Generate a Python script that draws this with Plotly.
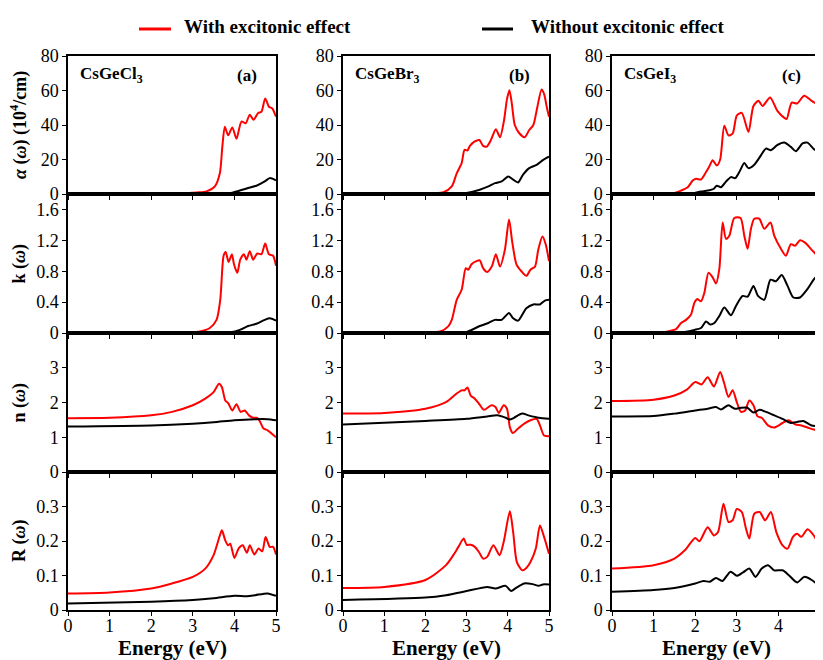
import plotly.graph_objects as go

# ---------------- DATA ----------------
# Panel (a) CsGeCl3
A_ALPHA_RED_X = [0, 1, 2, 2.5, 2.85, 3.1, 3.33, 3.53, 3.65, 3.71, 3.77, 3.85, 3.95, 4.05, 4.17, 4.27, 4.37, 4.46, 4.57, 4.65, 4.74, 4.83, 4.91, 5.0]
A_ALPHA_RED_Y = [0, 0, 0.1, 0.2, 0.5, 0.9, 1.5, 4.4, 12, 27.5, 39, 34, 38.6, 32, 42, 41, 46, 43, 47, 47.7, 55.4, 50.6, 49.6, 44.8]
A_ALPHA_BLK_X = [0, 1, 2, 3, 3.5, 3.89, 4.13, 4.33, 4.53, 4.73, 4.85, 5.0]
A_ALPHA_BLK_Y = [0, 0, 0, 0, 0.1, 0.5, 2, 3.5, 4.8, 7.3, 9.2, 7.9]
A_K_RED_X = [0, 1, 2, 2.8, 3.17, 3.41, 3.57, 3.66, 3.74, 3.79, 3.86, 3.94, 3.99, 4.07, 4.14, 4.23, 4.29, 4.37, 4.45, 4.55, 4.65, 4.74, 4.83, 4.93, 5.0]
A_K_RED_Y = [0, 0, 0.005, 0.01, 0.02, 0.065, 0.17, 0.43, 1.0, 1.05, 0.92, 1.02, 0.89, 0.78, 0.95, 1.02, 0.95, 1.06, 0.95, 1.03, 1.02, 1.16, 1.02, 1.0, 0.87]
A_K_BLK_X = [0, 1, 2, 3, 3.5, 3.9, 4.13, 4.33, 4.53, 4.73, 4.85, 5.0]
A_K_BLK_Y = [0, 0, 0, 0, 0.003, 0.01, 0.04, 0.09, 0.12, 0.17, 0.19, 0.16]
A_N_RED_X = [0, 1, 2, 2.5, 3, 3.3, 3.5, 3.63, 3.7, 3.78, 3.85, 3.95, 4.05, 4.15, 4.25, 4.35, 4.45, 4.55, 4.62, 4.7, 4.8, 4.9, 5.0]
A_N_RED_Y = [1.55, 1.56, 1.63, 1.73, 1.92, 2.11, 2.30, 2.54, 2.44, 2.06, 1.98, 1.77, 1.95, 1.73, 1.77, 1.63, 1.56, 1.56, 1.44, 1.25, 1.2, 1.1, 1.0]
A_N_BLK_X = [0, 2, 3, 3.5, 4, 4.5, 4.8, 5]
A_N_BLK_Y = [1.31, 1.34, 1.39, 1.43, 1.49, 1.52, 1.52, 1.49]
A_R_RED_X = [0, 1, 2, 2.5, 3, 3.3, 3.5, 3.65, 3.7, 3.78, 3.85, 3.9, 4.0, 4.1, 4.2, 4.3, 4.37, 4.48, 4.58, 4.67, 4.75, 4.85, 4.93, 5.0]
A_R_RED_Y = [0.048, 0.051, 0.0625, 0.077, 0.096, 0.12, 0.159, 0.216, 0.231, 0.202, 0.1875, 0.192, 0.151, 0.178, 0.1875, 0.166, 0.1875, 0.161, 0.178, 0.17, 0.2115, 0.183, 0.183, 0.161]
A_R_BLK_X = [0, 2, 3, 3.5, 4, 4.3, 4.5, 4.8, 5]
A_R_BLK_Y = [0.019, 0.024, 0.029, 0.034, 0.041, 0.04, 0.043, 0.048, 0.041]

# Panel (b) CsGeBr3
B_ALPHA_RED_X = [0, 1, 2, 2.2, 2.44, 2.64, 2.76, 2.88, 2.95, 3.02, 3.08, 3.19, 3.31, 3.40, 3.49, 3.59, 3.71, 3.81, 3.91, 3.98, 4.04, 4.10, 4.17, 4.28, 4.41, 4.52, 4.62, 4.71, 4.82, 4.88, 4.95, 5.0]
B_ALPHA_RED_Y = [0, 0, 0.1, 0.3, 1, 4.4, 12, 17.9, 25.6, 25.2, 27.9, 30.4, 31.3, 27.9, 27.5, 31.3, 37.5, 32.9, 42.9, 55, 60.2, 52, 40, 35.2, 32.9, 37.1, 40, 49.6, 60.6, 58, 50, 44.8]
B_ALPHA_BLK_X = [0, 1, 2, 2.8, 3.0, 3.32, 3.53, 3.69, 3.85, 4.01, 4.13, 4.25, 4.37, 4.52, 4.70, 4.86, 5.0]
B_ALPHA_BLK_Y = [0, 0, 0, 0.2, 0.6, 2.5, 4.4, 6.3, 7.3, 10.2, 8.3, 6.7, 11.2, 15, 16.9, 19.8, 21.7]
B_K_RED_X = [0, 1, 2, 2.36, 2.56, 2.64, 2.76, 2.88, 2.98, 3.04, 3.12, 3.24, 3.32, 3.40, 3.50, 3.61, 3.71, 3.81, 3.93, 4.03, 4.11, 4.21, 4.33, 4.45, 4.55, 4.66, 4.74, 4.84, 4.92, 5.0]
B_K_RED_Y = [0, 0, 0.005, 0.02, 0.09, 0.17, 0.43, 0.56, 0.84, 0.82, 0.89, 0.93, 0.94, 0.84, 0.79, 0.86, 1.02, 0.86, 1.08, 1.47, 1.17, 0.89, 0.80, 0.74, 0.82, 0.86, 1.08, 1.25, 1.15, 0.93]
B_K_BLK_X = [0, 1, 2, 2.8, 3.0, 3.32, 3.53, 3.69, 3.85, 4.03, 4.13, 4.25, 4.45, 4.62, 4.78, 4.90, 5.0]
B_K_BLK_Y = [0, 0, 0, 0.005, 0.013, 0.09, 0.13, 0.17, 0.17, 0.26, 0.19, 0.16, 0.32, 0.37, 0.37, 0.42, 0.43]
B_N_RED_X = [0, 1, 2, 2.5, 2.75, 2.88, 2.95, 3.02, 3.1, 3.2, 3.3, 3.42, 3.6, 3.7, 3.78, 3.9, 3.98, 4.05, 4.12, 4.25, 4.4, 4.55, 4.7, 4.78, 4.88, 5.0]
B_N_RED_Y = [1.68, 1.70, 1.82, 2.01, 2.25, 2.35, 2.35, 2.43, 2.2, 2.11, 1.97, 1.79, 1.92, 1.87, 1.70, 1.92, 1.82, 1.29, 1.12, 1.25, 1.39, 1.49, 1.53, 1.34, 1.05, 1.03]
B_N_BLK_X = [0, 2, 3, 3.5, 3.75, 3.95, 4.05, 4.15, 4.35, 4.5, 4.75, 5]
B_N_BLK_Y = [1.37, 1.47, 1.53, 1.60, 1.63, 1.56, 1.51, 1.56, 1.68, 1.63, 1.56, 1.53]
B_R_RED_X = [0, 1, 2, 2.5, 2.7, 2.8, 2.93, 3.0, 3.1, 3.2, 3.3, 3.4, 3.5, 3.65, 3.8, 3.9, 4.05, 4.13, 4.22, 4.35, 4.45, 4.55, 4.68, 4.78, 4.88, 5.0]
B_R_RED_Y = [0.064, 0.067, 0.087, 0.13, 0.163, 0.183, 0.207, 0.189, 0.189, 0.183, 0.168, 0.149, 0.154, 0.1875, 0.159, 0.197, 0.286, 0.226, 0.139, 0.115, 0.122, 0.139, 0.178, 0.245, 0.212, 0.163]
B_R_BLK_X = [0, 2, 2.5, 3, 3.5, 3.7, 3.95, 4.08, 4.2, 4.4, 4.6, 4.75, 4.85, 5]
B_R_BLK_Y = [0.029, 0.036, 0.043, 0.055, 0.067, 0.0625, 0.07, 0.055, 0.064, 0.077, 0.075, 0.07, 0.074, 0.074]

# Panel (c) CsGeI3
C_ALPHA_RED_X = [0, 1, 1.3, 1.5, 1.66, 1.82, 1.94, 2.02, 2.14, 2.26, 2.34, 2.42, 2.52, 2.60, 2.70, 2.80, 2.90, 3.00, 3.12, 3.28, 3.40, 3.52, 3.62, 3.80, 3.98, 4.15, 4.20, 4.32, 4.45, 4.62, 4.80, 5.0]
C_ALPHA_RED_Y = [0, 0, 0.2, 0.6, 2, 3.9, 7.8, 8.8, 8.4, 12.7, 16, 19.5, 16.5, 20, 39.5, 34, 35, 45.5, 47, 36, 51, 54, 51, 56, 48, 44, 43.5, 53, 52.5, 57, 54, 51]
C_ALPHA_BLK_X = [0, 1, 1.6, 1.9, 1.98, 2.14, 2.30, 2.44, 2.52, 2.62, 2.74, 2.86, 2.96, 3.06, 3.18, 3.28, 3.42, 3.58, 3.70, 3.82, 3.97, 4.14, 4.30, 4.42, 4.58, 4.70, 4.86, 5.0]
C_ALPHA_BLK_Y = [0, 0, 0.1, 0.3, 0.6, 1.4, 2, 2.9, 4.8, 3.9, 7.2, 9.8, 9.2, 12.7, 18, 15, 17, 22.4, 26.3, 25.4, 28.3, 29.8, 27.3, 24.8, 29.3, 29.8, 25.9, 24.4]
C_K_RED_X = [0, 1, 1.34, 1.54, 1.66, 1.78, 1.90, 1.98, 2.05, 2.14, 2.22, 2.32, 2.42, 2.50, 2.58, 2.66, 2.74, 2.82, 2.94, 3.09, 3.18, 3.26, 3.34, 3.42, 3.54, 3.66, 3.81, 3.90, 4.06, 4.18, 4.30, 4.40, 4.52, 4.64, 4.78, 4.94, 5.0]
C_K_RED_Y = [0, 0.003, 0.02, 0.05, 0.13, 0.17, 0.24, 0.39, 0.44, 0.41, 0.52, 0.78, 0.72, 0.64, 0.83, 1.43, 1.22, 1.26, 1.49, 1.49, 1.26, 1.09, 1.35, 1.48, 1.48, 1.35, 1.43, 1.26, 1.09, 1.0, 1.15, 1.13, 1.2, 1.17, 1.09, 1.0, 0.98]
C_K_BLK_X = [0, 1, 1.6, 1.82, 1.98, 2.14, 2.26, 2.36, 2.46, 2.58, 2.70, 2.86, 2.98, 3.14, 3.26, 3.40, 3.51, 3.66, 3.81, 3.94, 4.08, 4.22, 4.36, 4.52, 4.70, 4.86, 5.0]
C_K_BLK_Y = [0, 0, 0.005, 0.02, 0.04, 0.065, 0.15, 0.11, 0.13, 0.22, 0.33, 0.23, 0.35, 0.48, 0.47, 0.61, 0.48, 0.43, 0.69, 0.67, 0.75, 0.61, 0.46, 0.46, 0.57, 0.70, 0.78]
C_N_RED_X = [0, 1, 1.5, 1.8, 2.0, 2.15, 2.3, 2.45, 2.6, 2.7, 2.8, 2.9, 3.0, 3.1, 3.2, 3.3, 3.4, 3.5, 3.6, 3.75, 3.9, 4.1, 4.25, 4.4, 4.55, 4.7, 4.85, 5.0]
C_N_RED_Y = [2.04, 2.08, 2.2, 2.37, 2.59, 2.52, 2.73, 2.46, 2.88, 2.54, 2.16, 2.35, 2.01, 1.73, 1.77, 2.06, 1.92, 1.60, 1.56, 1.34, 1.28, 1.41, 1.49, 1.37, 1.34, 1.28, 1.22, 1.22]
C_N_BLK_X = [0, 1, 1.5, 2, 2.3, 2.5, 2.62, 2.8, 2.95, 3.1, 3.25, 3.4, 3.55, 3.7, 3.9, 4.1, 4.3, 4.45, 4.6, 4.8, 5]
C_N_BLK_Y = [1.60, 1.61, 1.68, 1.77, 1.82, 1.87, 1.80, 1.92, 1.82, 1.85, 1.85, 1.71, 1.79, 1.73, 1.63, 1.53, 1.41, 1.44, 1.47, 1.34, 1.31]
C_R_RED_X = [0, 1, 1.5, 1.75, 2.0, 2.1, 2.3, 2.45, 2.55, 2.68, 2.8, 2.9, 3.0, 3.12, 3.22, 3.3, 3.42, 3.55, 3.68, 3.82, 3.95, 4.1, 4.22, 4.35, 4.45, 4.55, 4.7, 4.85, 5.0]
C_R_RED_Y = [0.12, 0.13, 0.149, 0.173, 0.209, 0.199, 0.24, 0.216, 0.226, 0.308, 0.255, 0.26, 0.293, 0.284, 0.236, 0.207, 0.279, 0.284, 0.26, 0.284, 0.226, 0.1875, 0.178, 0.212, 0.221, 0.212, 0.234, 0.216, 0.183]
C_R_BLK_X = [0, 1, 1.5, 2, 2.2, 2.35, 2.5, 2.65, 2.85, 3.0, 3.15, 3.3, 3.45, 3.6, 3.75, 3.9, 4.1, 4.25, 4.45, 4.62, 4.8, 5]
C_R_BLK_Y = [0.053, 0.058, 0.064, 0.077, 0.084, 0.082, 0.093, 0.084, 0.111, 0.099, 0.109, 0.12, 0.096, 0.12, 0.13, 0.115, 0.115, 0.101, 0.08, 0.096, 0.087, 0.067]

COMPOUNDS = ["CsGeCl<sub>3</sub>", "CsGeBr<sub>3</sub>", "CsGeI<sub>3</sub>"]
PANEL_TAGS = ["(a)", "(b)", "(c)"]
ROW_TITLES = ["<b><i>α</i> (<i>ω</i>) (10<sup>4</sup>/cm)</b>", "<b>k (<i>ω</i>)</b>", "<b>n (<i>ω</i>)</b>", "<b>R (<i>ω</i>)</b>"]
Y_RANGES = [[0, 80], [0, 1.8], [0, 4], [0, 0.4]]
Y_TICKVALS = [[0, 20, 40, 60, 80], [0, 0.4, 0.8, 1.2, 1.6], [0, 1, 2, 3], [0, 0.1, 0.2, 0.3]]
Y_TICKTEXT = [["0", "20", "40", "60", "80"], ["0", "0.4", "0.8", "1.2", "1.6"], ["0", "1", "2", "3"], ["0", "0.1", "0.2", "0.3"]]
X_TICKVALS = [0, 1, 2, 3, 4, 5]
SERIES_NAMES = ["With excitonic effect", "Without excitonic effect"]
SERIES_COLORS = ["#ff0000", "#000000"]

DATA = {
    (0, 0): (A_ALPHA_RED_X, A_ALPHA_RED_Y, A_ALPHA_BLK_X, A_ALPHA_BLK_Y),
    (1, 0): (A_K_RED_X, A_K_RED_Y, A_K_BLK_X, A_K_BLK_Y),
    (2, 0): (A_N_RED_X, A_N_RED_Y, A_N_BLK_X, A_N_BLK_Y),
    (3, 0): (A_R_RED_X, A_R_RED_Y, A_R_BLK_X, A_R_BLK_Y),
    (0, 1): (B_ALPHA_RED_X, B_ALPHA_RED_Y, B_ALPHA_BLK_X, B_ALPHA_BLK_Y),
    (1, 1): (B_K_RED_X, B_K_RED_Y, B_K_BLK_X, B_K_BLK_Y),
    (2, 1): (B_N_RED_X, B_N_RED_Y, B_N_BLK_X, B_N_BLK_Y),
    (3, 1): (B_R_RED_X, B_R_RED_Y, B_R_BLK_X, B_R_BLK_Y),
    (0, 2): (C_ALPHA_RED_X, C_ALPHA_RED_Y, C_ALPHA_BLK_X, C_ALPHA_BLK_Y),
    (1, 2): (C_K_RED_X, C_K_RED_Y, C_K_BLK_X, C_K_BLK_Y),
    (2, 2): (C_N_RED_X, C_N_RED_Y, C_N_BLK_X, C_N_BLK_Y),
    (3, 2): (C_R_RED_X, C_R_RED_Y, C_R_BLK_X, C_R_BLK_Y),
}

# ---------------- LAYOUT GEOMETRY ----------------
# The page body has an 8px default offset, so the figure is sized to fill the rest of the window.
OFF = 8
SCREEN_W, SCREEN_H = 823, 660
W, H = SCREEN_W - OFF, SCREEN_H - OFF
COL_PX = [(68, 276), (343, 549), (612, 820)]      # screen pixels
ROW_PX = [(56, 194), (194, 333), (333, 472), (472, 610)]
ML = COL_PX[0][0] - OFF
MR = SCREEN_W - COL_PX[2][1]
MT = ROW_PX[0][0] - OFF
MB = SCREEN_H - ROW_PX[3][1]
PW = COL_PX[2][1] - COL_PX[0][0]
PH = ROW_PX[3][1] - ROW_PX[0][0]
LEGEND_PX = [(139, 171, 182), (482, 513, 529)]  # segment start, end, text start (screen px)
LEGEND_Y_PX = 29

def px_x(p):
    return (p - COL_PX[0][0]) / PW

def px_y(p):
    return (ROW_PX[3][1] - p) / PH

FONT = "Liberation Serif"
TICK_SIZE = 18
fig = go.Figure()
layout = {}

for r in range(4):
    for c in range(3):
        idx = r * 3 + c + 1
        s = "" if idx == 1 else str(idx)
        rx, ry, bx, by = DATA[(r, c)]
        fig.add_trace(go.Scatter(x=rx, y=ry, mode="lines", name=SERIES_NAMES[0],
                                 line=dict(color=SERIES_COLORS[0], width=2, shape="spline", smoothing=0.7),
                                 xaxis="x" + s, yaxis="y" + s, showlegend=False))
        fig.add_trace(go.Scatter(x=bx, y=by, mode="lines", name=SERIES_NAMES[1],
                                 line=dict(color=SERIES_COLORS[1], width=2, shape="spline", smoothing=0.7),
                                 xaxis="x" + s, yaxis="y" + s, showlegend=False))
        xd = [px_x(COL_PX[c][0]), px_x(COL_PX[c][1])]
        yd = [px_y(ROW_PX[r][1]), px_y(ROW_PX[r][0])]
        layout["xaxis" + s] = dict(domain=xd, range=[0, 5], anchor="y" + s,
                                   showline=True, mirror=True, linecolor="black", linewidth=1.5,
                                   ticks="outside", ticklen=4, tickcolor="black", tickwidth=1,
                                   tickvals=X_TICKVALS, showticklabels=(r == 3),
                                   ticklabelstandoff=-5, ticklabeloverflow="allow",
                                   tickfont=dict(family=FONT, size=TICK_SIZE, color="black"),
                                   showgrid=False, zeroline=False, fixedrange=True, automargin=False)
        layout["yaxis" + s] = dict(domain=yd, range=Y_RANGES[r], anchor="x" + s,
                                   showline=True, mirror=True, linecolor="black", linewidth=1.5,
                                   ticks="outside", ticklen=4, tickcolor="black", tickwidth=1,
                                   tickvals=Y_TICKVALS[r], ticktext=Y_TICKTEXT[r],
                                   ticklabeloverflow="allow",
                                   tickfont=dict(family=FONT, size=TICK_SIZE, color="black"),
                                   showgrid=False, zeroline=False, fixedrange=True, automargin=False)

annotations = []
shapes = []
for c in range(3):
    s = "" if c == 0 else str(c + 1)
    annotations.append(dict(text="<b>" + COMPOUNDS[c] + "</b>", xref="x" + s + " domain", yref="y" + s + " domain",
                            x=0.05, y=0.862, xanchor="left", yanchor="middle", showarrow=False,
                            font=dict(family=FONT, size=17, color="black")))
    annotations.append(dict(text="<b>" + PANEL_TAGS[c] + "</b>", xref="x" + s + " domain", yref="y" + s + " domain",
                            x=0.918, y=0.862, xanchor="right", yanchor="middle", showarrow=False,
                            font=dict(family=FONT, size=17, color="black")))
    annotations.append(dict(text="<b>Energy (eV)</b>", xref="paper", yref="paper",
                            x=(px_x(COL_PX[c][0]) + px_x(COL_PX[c][1])) / 2, y=px_y(648),
                            xanchor="center", yanchor="middle", showarrow=False,
                            font=dict(family=FONT, size=21, color="black")))
for r in range(4):
    annotations.append(dict(text=ROW_TITLES[r], xref="paper", yref="paper",
                            x=px_x(19), y=px_y((ROW_PX[r][0] + ROW_PX[r][1]) / 2),
                            xanchor="center", yanchor="middle", textangle=-90, showarrow=False,
                            font=dict(family=FONT, size=18, color="black")))

# Legend drawn as paper-positioned keys
for i, (x0, x1, xt) in enumerate(LEGEND_PX):
    shapes.append(dict(type="line", xref="paper", yref="paper",
                       x0=px_x(x0), x1=px_x(x1), y0=px_y(LEGEND_Y_PX), y1=px_y(LEGEND_Y_PX),
                       line=dict(color=SERIES_COLORS[i], width=3)))
    annotations.append(dict(text="<b>" + SERIES_NAMES[i] + "</b>", xref="paper", yref="paper",
                            x=px_x(xt), y=px_y(LEGEND_Y_PX - 2), xanchor="left", yanchor="middle",
                            showarrow=False, font=dict(family=FONT, size=19, color="black")))

fig.update_layout(**layout)
fig.update_layout(
    width=W, height=H,
    margin=dict(l=ML, r=MR, t=MT, b=MB),
    paper_bgcolor="white", plot_bgcolor="white",
    annotations=annotations, shapes=shapes,
    showlegend=False,
)

fig.write_html("out.html")
